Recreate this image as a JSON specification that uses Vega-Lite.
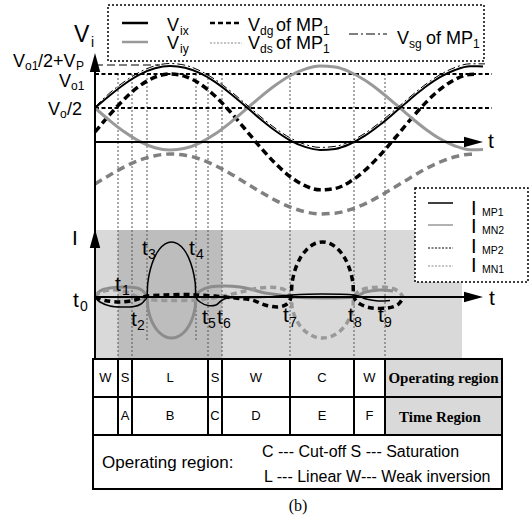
{
"$schema": "https://vega.github.io/schema/vega-lite/v6.json",
"width": 531, "height": 519,
"autosize": {"type": "fit", "contains": "padding"},
"padding": 0,
"background": "white",
"config": {"view": {"stroke": null}, "text": {"font": "Liberation Sans", "color": "black"}},
"datasets": {
"upper": [
{"s":"Vix","x":95,"y":108},{"s":"Vix","x":110,"y":95.2},{"s":"Vix","x":125,"y":83.7},{"s":"Vix","x":140,"y":74.4},{"s":"Vix","x":155,"y":68.3},{"s":"Vix","x":170,"y":66},{"s":"Vix","x":185,"y":67.7},{"s":"Vix","x":200,"y":73.2},{"s":"Vix","x":215,"y":81.9},{"s":"Vix","x":230,"y":93.2},{"s":"Vix","x":245,"y":105.8},{"s":"Vix","x":260,"y":118.7},{"s":"Vix","x":275,"y":130.5},{"s":"Vix","x":290,"y":140.3},{"s":"Vix","x":305,"y":146.9},{"s":"Vix","x":320,"y":149.9},{"s":"Vix","x":335,"y":148.9},{"s":"Vix","x":350,"y":144},{"s":"Vix","x":365,"y":135.7},{"s":"Vix","x":380,"y":124.8},{"s":"Vix","x":395,"y":112.3},{"s":"Vix","x":410,"y":99.4},{"s":"Vix","x":425,"y":87.3},{"s":"Vix","x":440,"y":77.2},{"s":"Vix","x":455,"y":70},{"s":"Vix","x":470,"y":66.3},{"s":"Vix","x":483,"y":66.4},
{"s":"Viy","x":95,"y":108},{"s":"Viy","x":110,"y":120.8},{"s":"Viy","x":125,"y":132.3},{"s":"Viy","x":140,"y":141.6},{"s":"Viy","x":155,"y":147.7},{"s":"Viy","x":170,"y":150},{"s":"Viy","x":185,"y":148.3},{"s":"Viy","x":200,"y":142.8},{"s":"Viy","x":215,"y":134.1},{"s":"Viy","x":230,"y":122.8},{"s":"Viy","x":245,"y":110.2},{"s":"Viy","x":260,"y":97.3},{"s":"Viy","x":275,"y":85.5},{"s":"Viy","x":290,"y":75.7},{"s":"Viy","x":305,"y":69.1},{"s":"Viy","x":320,"y":66.1},{"s":"Viy","x":335,"y":67.1},{"s":"Viy","x":350,"y":72},{"s":"Viy","x":365,"y":80.3},{"s":"Viy","x":380,"y":91.2},{"s":"Viy","x":395,"y":103.7},{"s":"Viy","x":410,"y":116.6},{"s":"Viy","x":425,"y":128.7},{"s":"Viy","x":440,"y":138.8},{"s":"Viy","x":455,"y":146},{"s":"Viy","x":470,"y":149.7},{"s":"Viy","x":483,"y":149.6},
{"s":"Vsg","x":95,"y":107},{"s":"Vsg","x":110,"y":92.7},{"s":"Vsg","x":125,"y":81.2},{"s":"Vsg","x":140,"y":71.9},{"s":"Vsg","x":155,"y":65.8},{"s":"Vsg","x":170,"y":63.5},{"s":"Vsg","x":185,"y":65.2},{"s":"Vsg","x":200,"y":70.7},{"s":"Vsg","x":215,"y":79.4},{"s":"Vsg","x":230,"y":90.7},{"s":"Vsg","x":245,"y":103.3},{"s":"Vsg","x":260,"y":116.2},{"s":"Vsg","x":275,"y":128},{"s":"Vsg","x":290,"y":137.8},{"s":"Vsg","x":305,"y":144.4},{"s":"Vsg","x":320,"y":147.4},{"s":"Vsg","x":335,"y":146.4},{"s":"Vsg","x":350,"y":141.5},{"s":"Vsg","x":365,"y":133.2},{"s":"Vsg","x":380,"y":122.3},{"s":"Vsg","x":395,"y":109.8},{"s":"Vsg","x":410,"y":96.9},{"s":"Vsg","x":425,"y":84.8},{"s":"Vsg","x":440,"y":74.7},{"s":"Vsg","x":455,"y":67.5},{"s":"Vsg","x":470,"y":63.8},{"s":"Vsg","x":485,"y":63.9},
{"s":"Vdg","x":95,"y":132},{"s":"Vdg","x":110,"y":114.4},{"s":"Vdg","x":125,"y":98.4},{"s":"Vdg","x":140,"y":85.6},{"s":"Vdg","x":155,"y":77.2},{"s":"Vdg","x":170,"y":74},{"s":"Vdg","x":185,"y":76.3},{"s":"Vdg","x":200,"y":83.9},{"s":"Vdg","x":215,"y":96},{"s":"Vdg","x":230,"y":111.5},{"s":"Vdg","x":245,"y":129},{"s":"Vdg","x":260,"y":146.8},{"s":"Vdg","x":275,"y":163.1},{"s":"Vdg","x":290,"y":176.5},{"s":"Vdg","x":305,"y":185.7},{"s":"Vdg","x":320,"y":189.8},{"s":"Vdg","x":335,"y":188.5},{"s":"Vdg","x":350,"y":181.7},{"s":"Vdg","x":365,"y":170.3},{"s":"Vdg","x":380,"y":155.2},{"s":"Vdg","x":395,"y":138},{"s":"Vdg","x":410,"y":120.1},{"s":"Vdg","x":425,"y":103.4},{"s":"Vdg","x":440,"y":89.4},{"s":"Vdg","x":455,"y":79.5},{"s":"Vdg","x":470,"y":74.5},{"s":"Vdg","x":478,"y":74.3},
{"s":"Vds","x":95,"y":184},{"s":"Vds","x":110,"y":174.9},{"s":"Vds","x":125,"y":166.6},{"s":"Vds","x":140,"y":160},{"s":"Vds","x":155,"y":155.7},{"s":"Vds","x":170,"y":154},{"s":"Vds","x":185,"y":155.2},{"s":"Vds","x":200,"y":159.1},{"s":"Vds","x":215,"y":165.4},{"s":"Vds","x":230,"y":173.4},{"s":"Vds","x":245,"y":182.5},{"s":"Vds","x":260,"y":191.6},{"s":"Vds","x":275,"y":200.1},{"s":"Vds","x":290,"y":207},{"s":"Vds","x":305,"y":211.8},{"s":"Vds","x":320,"y":213.9},{"s":"Vds","x":335,"y":213.2},{"s":"Vds","x":350,"y":209.7},{"s":"Vds","x":365,"y":203.8},{"s":"Vds","x":380,"y":196},{"s":"Vds","x":395,"y":187.1},{"s":"Vds","x":410,"y":177.9},{"s":"Vds","x":425,"y":169.2},{"s":"Vds","x":440,"y":162},{"s":"Vds","x":455,"y":156.8},{"s":"Vds","x":470,"y":154.2},{"s":"Vds","x":476,"y":154.3}
],
"lower": [
{"s":"IMP1","i":1,"x":95,"y":297},{"s":"IMP1","i":2,"x":100,"y":302},{"s":"IMP1","i":3,"x":110,"y":306},{"s":"IMP1","i":4,"x":122,"y":307},{"s":"IMP1","i":5,"x":134,"y":306.5},{"s":"IMP1","i":6,"x":141,"y":304},{"s":"IMP1","i":7,"x":145,"y":300},{"s":"IMP1","i":8,"x":147,"y":297},{"s":"IMP1","i":9,"x":147.8,"y":282.8},{"s":"IMP1","i":10,"x":150.3,"y":269.5},{"s":"IMP1","i":11,"x":154.2,"y":258.1},{"s":"IMP1","i":12,"x":159.3,"y":249.4},{"s":"IMP1","i":13,"x":165.2,"y":243.9},{"s":"IMP1","i":14,"x":171.5,"y":242},{"s":"IMP1","i":15,"x":177.8,"y":243.9},{"s":"IMP1","i":16,"x":183.8,"y":249.4},{"s":"IMP1","i":17,"x":188.8,"y":258.1},{"s":"IMP1","i":18,"x":192.7,"y":269.5},{"s":"IMP1","i":19,"x":195.2,"y":282.8},{"s":"IMP1","i":20,"x":196,"y":297},{"s":"IMP1","i":21,"x":200,"y":302},{"s":"IMP1","i":22,"x":208,"y":305.5},{"s":"IMP1","i":23,"x":216,"y":305},{"s":"IMP1","i":24,"x":221,"y":301},{"s":"IMP1","i":25,"x":228,"y":298},{"s":"IMP1","i":26,"x":250,"y":297.5},{"s":"IMP1","i":27,"x":270,"y":297},{"s":"IMP1","i":28,"x":291,"y":295},{"s":"IMP1","i":29,"x":322,"y":294},{"s":"IMP1","i":30,"x":354,"y":295},{"s":"IMP1","i":31,"x":366,"y":299},{"s":"IMP1","i":32,"x":378,"y":301},{"s":"IMP1","i":33,"x":390,"y":300.5},
{"s":"IMN2","i":1,"x":95,"y":297},{"s":"IMN2","i":2,"x":100,"y":291},{"s":"IMN2","i":3,"x":110,"y":288},{"s":"IMN2","i":4,"x":125,"y":287},{"s":"IMN2","i":5,"x":137,"y":288},{"s":"IMN2","i":6,"x":143,"y":291},{"s":"IMN2","i":7,"x":147,"y":297},{"s":"IMN2","i":8,"x":147.8,"y":307.6},{"s":"IMN2","i":9,"x":150.3,"y":317.5},{"s":"IMN2","i":10,"x":154.2,"y":326},{"s":"IMN2","i":11,"x":159.3,"y":332.5},{"s":"IMN2","i":12,"x":165.2,"y":336.6},{"s":"IMN2","i":13,"x":171.5,"y":338},{"s":"IMN2","i":14,"x":177.8,"y":336.6},{"s":"IMN2","i":15,"x":183.8,"y":332.5},{"s":"IMN2","i":16,"x":188.8,"y":326},{"s":"IMN2","i":17,"x":192.7,"y":317.5},{"s":"IMN2","i":18,"x":195.2,"y":307.6},{"s":"IMN2","i":19,"x":196,"y":297},{"s":"IMN2","i":20,"x":200,"y":291},{"s":"IMN2","i":21,"x":210,"y":287},{"s":"IMN2","i":22,"x":225,"y":286},{"s":"IMN2","i":23,"x":240,"y":287},{"s":"IMN2","i":24,"x":252,"y":289.5},{"s":"IMN2","i":25,"x":265,"y":293},{"s":"IMN2","i":26,"x":280,"y":295},{"s":"IMN2","i":27,"x":291,"y":297},{"s":"IMN2","i":28,"x":322,"y":298},{"s":"IMN2","i":29,"x":354,"y":297},{"s":"IMN2","i":30,"x":365,"y":292},{"s":"IMN2","i":31,"x":380,"y":290},{"s":"IMN2","i":32,"x":393,"y":291},
{"s":"IMP2","i":1,"x":95,"y":297},{"s":"IMP2","i":2,"x":105,"y":300.5},{"s":"IMP2","i":3,"x":120,"y":302},{"s":"IMP2","i":4,"x":135,"y":300},{"s":"IMP2","i":5,"x":147,"y":296},{"s":"IMP2","i":6,"x":165,"y":295},{"s":"IMP2","i":7,"x":185,"y":294.5},{"s":"IMP2","i":8,"x":196,"y":295},{"s":"IMP2","i":9,"x":215,"y":296},{"s":"IMP2","i":10,"x":235,"y":298},{"s":"IMP2","i":11,"x":252,"y":300},{"s":"IMP2","i":12,"x":265,"y":305},{"s":"IMP2","i":13,"x":278,"y":307},{"s":"IMP2","i":14,"x":287,"y":304},{"s":"IMP2","i":15,"x":291,"y":297},{"s":"IMP2","i":16,"x":292.1,"y":282.8},{"s":"IMP2","i":17,"x":295.2,"y":269.5},{"s":"IMP2","i":18,"x":300.2,"y":258.1},{"s":"IMP2","i":19,"x":306.8,"y":249.4},{"s":"IMP2","i":20,"x":314.3,"y":243.9},{"s":"IMP2","i":21,"x":322.5,"y":242},{"s":"IMP2","i":22,"x":330.7,"y":243.9},{"s":"IMP2","i":23,"x":338.3,"y":249.4},{"s":"IMP2","i":24,"x":344.8,"y":258.1},{"s":"IMP2","i":25,"x":349.8,"y":269.5},{"s":"IMP2","i":26,"x":352.9,"y":282.8},{"s":"IMP2","i":27,"x":354,"y":297},{"s":"IMP2","i":28,"x":360,"y":304},{"s":"IMP2","i":29,"x":372,"y":308},{"s":"IMP2","i":30,"x":388,"y":308},{"s":"IMP2","i":31,"x":398,"y":304.5},{"s":"IMP2","i":32,"x":403,"y":298},
{"s":"IMN1","i":1,"x":95,"y":297},{"s":"IMN1","i":2,"x":100,"y":292.5},{"s":"IMN1","i":3,"x":110,"y":290},{"s":"IMN1","i":4,"x":120,"y":290.5},{"s":"IMN1","i":5,"x":130,"y":293.5},{"s":"IMN1","i":6,"x":138,"y":297},{"s":"IMN1","i":7,"x":147,"y":299.5},{"s":"IMN1","i":8,"x":170,"y":300.5},{"s":"IMN1","i":9,"x":196,"y":300},{"s":"IMN1","i":10,"x":212,"y":298},{"s":"IMN1","i":11,"x":228,"y":295},{"s":"IMN1","i":12,"x":245,"y":291},{"s":"IMN1","i":13,"x":260,"y":288},{"s":"IMN1","i":14,"x":275,"y":287.5},{"s":"IMN1","i":15,"x":285,"y":290},{"s":"IMN1","i":16,"x":291,"y":297},{"s":"IMN1","i":17,"x":292.1,"y":307.6},{"s":"IMN1","i":18,"x":295.2,"y":317.5},{"s":"IMN1","i":19,"x":300.2,"y":326},{"s":"IMN1","i":20,"x":306.8,"y":332.5},{"s":"IMN1","i":21,"x":314.3,"y":336.6},{"s":"IMN1","i":22,"x":322.5,"y":338},{"s":"IMN1","i":23,"x":330.7,"y":336.6},{"s":"IMN1","i":24,"x":338.3,"y":332.5},{"s":"IMN1","i":25,"x":344.8,"y":326},{"s":"IMN1","i":26,"x":349.8,"y":317.5},{"s":"IMN1","i":27,"x":352.9,"y":307.6},{"s":"IMN1","i":28,"x":354,"y":297},{"s":"IMN1","i":29,"x":360,"y":290.5},{"s":"IMN1","i":30,"x":372,"y":287.5},{"s":"IMN1","i":31,"x":388,"y":287.5},{"s":"IMN1","i":32,"x":398,"y":291},{"s":"IMN1","i":33,"x":403,"y":297}
]
},
"encoding": {
"x": {"field": "x", "type": "quantitative", "scale": {"domain": [0, 531], "nice": false, "zero": false}, "axis": null},
"y": {"field": "y", "type": "quantitative", "scale": {"domain": [519, 0], "nice": false, "zero": false}, "axis": null}
},
"layer": [
{"data": {"values": [{"x":95,"x2":462,"y":230,"y2":359}]}, "mark": {"type":"rect","color":"#d9d9d9"}, "encoding": {"x2":{"field":"x2"},"y2":{"field":"y2"}}},
{"data": {"values": [{"x":118,"x2":222,"y":230,"y2":359}]}, "mark": {"type":"rect","color":"#bdbdbd"}, "encoding": {"x2":{"field":"x2"},"y2":{"field":"y2"}}},
{"data": {"values": [{"x":385,"x2":502,"y":359,"y2":435}]}, "mark": {"type":"rect","color":"#d9d9d9"}, "encoding": {"x2":{"field":"x2"},"y2":{"field":"y2"}}},
{"data": {"values": [{"x":108,"x2":484,"y":5,"y2":61},{"x":415,"x2":528,"y":188,"y2":282}]}, "mark": {"type":"rect","fill":"white","stroke":"black","strokeWidth":1.5,"strokeDash":[2,2]}, "encoding": {"x2":{"field":"x2"},"y2":{"field":"y2"}}},
{"data": {"values": [{"x":118,"y":74,"y2":359},{"x":132,"y":74,"y2":359},{"x":147,"y":74,"y2":340},{"x":196,"y":74,"y2":340},{"x":208,"y":74,"y2":359},{"x":222,"y":74,"y2":359},{"x":290,"y":74,"y2":359},{"x":354,"y":74,"y2":359},{"x":385,"y":74,"y2":359}]}, "mark": {"type":"rule","color":"#555","strokeWidth":1,"strokeDash":[2,2]}, "encoding": {"y2":{"field":"y2"}}},
{"data": {"values": [{"x":95,"x2":492,"y":74},{"x":95,"x2":492,"y":108}]}, "mark": {"type":"rule","color":"black","strokeWidth":2,"strokeDash":[4,2.5]}, "encoding": {"x2":{"field":"x2"}}},
{"data": {"values": [{"x":95,"x2":160,"y":65}]}, "mark": {"type":"rule","color":"black","strokeWidth":1,"strokeDash":[8,4]}, "encoding": {"x2":{"field":"x2"}}},
{"data": {"name": "upper"}, "transform": [{"filter": "datum.s === 'Vds'"}], "mark": {"type":"line","interpolate":"monotone","color":"#808080","strokeWidth":3.5,"strokeDash":[8,5]}},
{"data": {"name": "upper"}, "transform": [{"filter": "datum.s === 'Vdg'"}], "mark": {"type":"line","interpolate":"monotone","color":"black","strokeWidth":3.5,"strokeDash":[7,4]}},
{"data": {"name": "upper"}, "transform": [{"filter": "datum.s === 'Viy'"}], "mark": {"type":"line","interpolate":"monotone","color":"#999999","strokeWidth":3}},
{"data": {"name": "upper"}, "transform": [{"filter": "datum.s === 'Vix'"}], "mark": {"type":"line","interpolate":"monotone","color":"black","strokeWidth":2}},
{"data": {"name": "upper"}, "transform": [{"filter": "datum.s === 'Vsg'"}], "mark": {"type":"line","interpolate":"monotone","color":"black","strokeWidth":1,"strokeDash":[8,3,2,3]}},
{"data": {"name": "lower"}, "transform": [{"filter": "datum.s === 'IMN2'"}], "mark": {"type":"line","interpolate":"cardinal","color":"#8c8c8c","strokeWidth":3}, "encoding": {"order": {"field":"i","type":"quantitative"}}},
{"data": {"name": "lower"}, "transform": [{"filter": "datum.s === 'IMN1'"}], "mark": {"type":"line","interpolate":"cardinal","color":"#999999","strokeWidth":3.5,"strokeDash":[6,4]}, "encoding": {"order": {"field":"i","type":"quantitative"}}},
{"data": {"name": "lower"}, "transform": [{"filter": "datum.s === 'IMP2'"}], "mark": {"type":"line","interpolate":"cardinal","color":"black","strokeWidth":3.5,"strokeDash":[6,4]}, "encoding": {"order": {"field":"i","type":"quantitative"}}},
{"data": {"name": "lower"}, "transform": [{"filter": "datum.s === 'IMP1'"}], "mark": {"type":"line","interpolate":"cardinal","color":"black","strokeWidth":1.5}, "encoding": {"order": {"field":"i","type":"quantitative"}}},
{"data": {"values": [{"x":95,"y":70,"y2":359},{"x":118,"y":359,"y2":435},{"x":132,"y":359,"y2":435},{"x":208,"y":359,"y2":435},{"x":222,"y":359,"y2":435},{"x":290,"y":359,"y2":435},{"x":354,"y":359,"y2":435},{"x":385,"y":359,"y2":435}]}, "mark": {"type":"rule","color":"black","strokeWidth":2}, "encoding": {"y2":{"field":"y2"}}},
{"data": {"values": [{"x":95,"x2":468,"y":142},{"x":95,"x2":468,"y":297},{"x":93,"x2":502,"y":397},{"x":93,"x2":502,"y":435}]}, "mark": {"type":"rule","color":"black","strokeWidth":2}, "encoding": {"x2":{"field":"x2"}}},
{"data": {"values": [{"x":93,"x2":502,"y":359,"y2":489}]}, "mark": {"type":"rect","fill":null,"fillOpacity":0,"stroke":"black","strokeWidth":2}, "encoding": {"x2":{"field":"x2"},"y2":{"field":"y2"}}},
{"data": {"values": [{"x":95,"y":62.5},{"x":95,"y":238.5}]}, "mark": {"type":"point","filled":true,"color":"black","opacity":1,"size":361,"shape":"M0,-1L0.55,1L-0.55,1Z"}},
{"data": {"values": [{"x":473.5,"y":142},{"x":473.5,"y":297}]}, "mark": {"type":"point","filled":true,"color":"black","opacity":1,"size":361,"shape":"M1,0L-1,-0.55L-1,0.55Z"}},
{"data": {"values": [{"x":122,"x2":148,"y":23}]}, "mark": {"type":"rule","color":"black","strokeWidth":2.5}, "encoding": {"x2":{"field":"x2"}}},
{"data": {"values": [{"x":122,"x2":148,"y":42}]}, "mark": {"type":"rule","color":"#999999","strokeWidth":2.5}, "encoding": {"x2":{"field":"x2"}}},
{"data": {"values": [{"x":210,"x2":242,"y":23}]}, "mark": {"type":"rule","color":"black","strokeWidth":2.5,"strokeDash":[5,3]}, "encoding": {"x2":{"field":"x2"}}},
{"data": {"values": [{"x":210,"x2":242,"y":43},{"x":428,"x2":453,"y":266}]}, "mark": {"type":"rule","color":"#888888","strokeWidth":1,"strokeDash":[2,1.5]}, "encoding": {"x2":{"field":"x2"}}},
{"data": {"values": [{"x":428,"x2":453,"y":248}]}, "mark": {"type":"rule","color":"black","strokeWidth":1,"strokeDash":[2,1.5]}, "encoding": {"x2":{"field":"x2"}}},
{"data": {"values": [{"x":349,"x2":387,"y":34}]}, "mark": {"type":"rule","color":"black","strokeWidth":1.2,"strokeDash":[9,3,2,3]}, "encoding": {"x2":{"field":"x2"}}},
{"data": {"values": [{"x":428,"x2":453,"y":203}]}, "mark": {"type":"rule","color":"black","strokeWidth":1.5}, "encoding": {"x2":{"field":"x2"}}},
{"data": {"values": [{"x":428,"x2":453,"y":225}]}, "mark": {"type":"rule","color":"#999999","strokeWidth":1.5}, "encoding": {"x2":{"field":"x2"}}},
{"data": {"values": [{"x":74,"y":42,"text":"V"}]}, "mark": {"type":"text","fontSize":23,"align":"left","baseline":"alphabetic"}, "encoding": {"text":{"field":"text"}}},
{"data": {"values": [{"x":91,"y":47,"text":"i"}]}, "mark": {"type":"text","fontSize":14,"align":"left","baseline":"alphabetic"}, "encoding": {"text":{"field":"text"}}},
{"data": {"values": [{"x":73,"y":307,"text":"t"},{"x":115,"y":291,"text":"t"},{"x":131,"y":326,"text":"t"},{"x":142,"y":255,"text":"t"},{"x":189,"y":255,"text":"t"},{"x":202,"y":324,"text":"t"},{"x":217,"y":324,"text":"t"},{"x":283,"y":322,"text":"t"},{"x":348,"y":322,"text":"t"},{"x":378,"y":322,"text":"t"},{"x":488,"y":148,"text":"t"},{"x":489,"y":305,"text":"t"},{"x":72,"y":245,"text":"I"}]}, "mark": {"type":"text","fontSize":21,"align":"left","baseline":"alphabetic"}, "encoding": {"text":{"field":"text"}}},
{"data": {"values": [{"x":80,"y":311,"text":"0"},{"x":122,"y":295,"text":"1"},{"x":137,"y":330,"text":"2"},{"x":148,"y":259,"text":"3"},{"x":196,"y":259,"text":"4"},{"x":208,"y":328,"text":"5"},{"x":223,"y":328,"text":"6"},{"x":289,"y":327,"text":"7"},{"x":354,"y":327,"text":"8"},{"x":384,"y":327,"text":"9"}]}, "mark": {"type":"text","fontSize":14,"align":"left","baseline":"alphabetic"}, "encoding": {"text":{"field":"text"}}},
{"data": {"values": [{"x":167,"y":31,"text":"V"},{"x":167,"y":49,"text":"V"},{"x":248,"y":31,"text":"V"},{"x":248,"y":49,"text":"V"},{"x":397,"y":44,"text":"V"},{"x":276,"y":31,"text":"of MP"},{"x":276,"y":49,"text":"of MP"},{"x":426,"y":44,"text":"of MP"},{"x":13,"y":67,"text":"V"},{"x":38,"y":67,"text":"/2+V"},{"x":59,"y":87,"text":"V"},{"x":48,"y":115,"text":"V"},{"x":67,"y":115,"text":"/2"}]}, "mark": {"type":"text","fontSize":18,"align":"left","baseline":"alphabetic"}, "encoding": {"text":{"field":"text"}}},
{"data": {"values": [{"x":180,"y":35,"text":"ix"},{"x":180,"y":53,"text":"iy"},{"x":260,"y":35,"text":"dg"},{"x":260,"y":53,"text":"ds"},{"x":409,"y":48,"text":"sg"},{"x":323,"y":35,"text":"1"},{"x":323,"y":53,"text":"1"},{"x":473,"y":48,"text":"1"},{"x":25,"y":70,"text":"o1"},{"x":76,"y":70,"text":"P"},{"x":71,"y":90,"text":"o1"},{"x":60,"y":118,"text":"o"}]}, "mark": {"type":"text","fontSize":12,"align":"left","baseline":"alphabetic"}, "encoding": {"text":{"field":"text"}}},
{"data": {"values": [{"x":471,"y":215,"text":"I"},{"x":471,"y":233,"text":"I"},{"x":471,"y":253,"text":"I"},{"x":471,"y":272,"text":"I"}]}, "mark": {"type":"text","fontSize":20,"align":"left","baseline":"alphabetic"}, "encoding": {"text":{"field":"text"}}},
{"data": {"values": [{"x":482,"y":216,"text":"MP1"},{"x":482,"y":234,"text":"MN2"},{"x":482,"y":254,"text":"MP2"},{"x":482,"y":273,"text":"MN1"}]}, "mark": {"type":"text","fontSize":10.5,"align":"left","baseline":"alphabetic"}, "encoding": {"text":{"field":"text"}}},
{"data": {"values": [{"x":105.5,"y":378,"text":"W"},{"x":125,"y":378,"text":"S"},{"x":170,"y":378,"text":"L"},{"x":215,"y":378,"text":"S"},{"x":256,"y":378,"text":"W"},{"x":322,"y":378,"text":"C"},{"x":369.5,"y":378,"text":"W"},{"x":125,"y":416,"text":"A"},{"x":170,"y":416,"text":"B"},{"x":215,"y":416,"text":"C"},{"x":256,"y":416,"text":"D"},{"x":322,"y":416,"text":"E"},{"x":369.5,"y":416,"text":"F"}]}, "mark": {"type":"text","fontSize":13,"align":"center","baseline":"middle"}, "encoding": {"text":{"field":"text"}}},
{"data": {"values": [{"x":443.5,"y":378,"text":"Operating region"},{"x":440,"y":417,"text":"Time Region"}]}, "mark": {"type":"text","font":"Liberation Serif","fontWeight":"bold","fontSize":15,"align":"center","baseline":"middle"}, "encoding": {"text":{"field":"text"}}},
{"data": {"values": [{"x":102,"y":463,"text":"Operating region:"}]}, "mark": {"type":"text","fontSize":17,"align":"left","baseline":"middle"}, "encoding": {"text":{"field":"text"}}},
{"data": {"values": [{"x":262,"y":452,"text":"C --- Cut-off  S --- Saturation"},{"x":264,"y":477,"text":"L --- Linear  W--- Weak inversion"}]}, "mark": {"type":"text","fontSize":16,"align":"left","baseline":"middle"}, "encoding": {"text":{"field":"text"}}},
{"data": {"values": [{"x":298,"y":506,"text":"(b)"}]}, "mark": {"type":"text","font":"Liberation Serif","fontSize":16,"align":"center","baseline":"middle"}, "encoding": {"text":{"field":"text"}}}
]
}
